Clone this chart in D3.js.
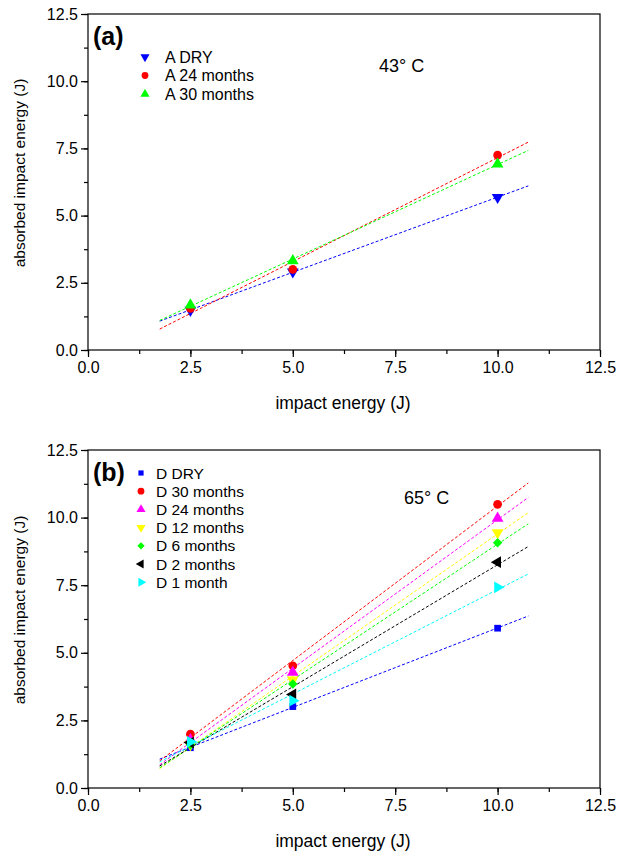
<!doctype html>
<html>
  <head>
    <meta charset="utf-8">
    <title>Absorbed impact energy</title>
    <script src="https://cdn.jsdelivr.net/npm/d3@7/dist/d3.min.js"></script>
    <style>
      body { margin: 0; background: #fff; }
      text { font-family: "Liberation Sans", Arial, sans-serif; }
    </style>
  </head>
  <body>
    <script>
      // impact energies (J)
      const energies = [2.5, 5, 10];
      const ticks = [0, 2.5, 5, 7.5, 10, 12.5];

      // panel (a), 43° C
      const seriesA = ['A DRY', 'A 24 months', 'A 30 months'];
      const aDry = [1.48, 2.91, 5.68];
      const a24 = [1.55, 3.0, 7.25];
      const a30 = [1.67, 3.32, 6.92];

      // panel (b), 65° C
      const seriesD = ['D DRY', 'D 30 months', 'D 24 months', 'D 12 months', 'D 6 months', 'D 2 months', 'D 1 month'];
      const dDry = [1.49, 3.01, 5.91];
      const d30 = [1.99, 4.52, 10.49];
      const d24 = [1.78, 4.28, 9.97];
      const d12 = [1.6, 4.0, 9.44];
      const d6 = [1.6, 3.85, 9.07];
      const d2 = [1.68, 3.46, 8.35];
      const d1 = [1.71, 3.23, 7.42];

      const W = 617, H = 853;
      const svg = d3.select('body').append('svg')
          .attr('width', W)
          .attr('height', H);

      // marker shapes: symbol type + rotation
      const shapes = {
        down: [d3.symbolTriangle, 180],
        up: [d3.symbolTriangle, 0],
        left: [d3.symbolTriangle, -90],
        right: [d3.symbolTriangle, 90],
        circle: [d3.symbolCircle, 0],
        square: [d3.symbolSquare, 0],
        diamond: [d3.symbolSquare, 45]
      };

      function fit(xs, ys) {
        const mx = d3.mean(xs), my = d3.mean(ys);
        const sxy = d3.sum(xs, (x, i) => (x - mx) * (ys[i] - my));
        const sxx = d3.sum(xs, x => (x - mx) * (x - mx));
        const b = sxy / sxx;
        return [b, my - b * mx];
      }

      function panel(cfg) {
        const x = d3.scaleLinear().domain([0, 12.5]).range([88, 600]);
        const y = d3.scaleLinear().domain([0, 12.5]).range([cfg.bottom, cfg.top]);
        const g = svg.append('g');

        // frame
        g.append('rect')
            .attr('x', 88).attr('y', cfg.top)
            .attr('width', 512).attr('height', cfg.bottom - cfg.top)
            .attr('fill', 'none').attr('stroke', '#000').attr('stroke-width', 1.2);

        // axes, major + minor ticks
        const minor = d3.range(0, 12.51, 1.25);
        g.append('g').attr('transform', `translate(0,${cfg.bottom})`)
            .call(d3.axisBottom(x).tickValues(minor).tickSize(4).tickFormat(''))
            .call(a => a.select('.domain').remove());
        g.append('g').attr('transform', `translate(0,${cfg.bottom})`)
            .call(d3.axisBottom(x).tickValues(ticks).tickSize(7).tickPadding(5).tickFormat(d3.format('.1f')))
            .call(a => a.select('.domain').remove())
            .call(a => a.selectAll('text').attr('font-size', 16).attr('fill', '#000'));
        g.append('g').attr('transform', 'translate(88,0)')
            .call(d3.axisLeft(y).tickValues(minor).tickSize(4).tickFormat(''))
            .call(a => a.select('.domain').remove());
        g.append('g').attr('transform', 'translate(88,0)')
            .call(d3.axisLeft(y).tickValues(ticks).tickSize(7).tickPadding(3).tickFormat(d3.format('.1f')))
            .call(a => a.select('.domain').remove())
            .call(a => a.selectAll('text').attr('font-size', 16).attr('fill', '#000'));
        g.selectAll('.tick line').attr('stroke-width', 1.2);

        // axis titles
        g.append('text')
            .attr('x', 343).attr('y', cfg.bottom + 59)
            .attr('text-anchor', 'middle').attr('font-size', 17.5)
            .text('impact energy (J)');
        g.append('text')
            .attr('transform', `translate(25,${(cfg.top + cfg.bottom) / 2 - 9}) rotate(-90)`)
            .attr('text-anchor', 'middle').attr('font-size', 15.5)
            .text('absorbed impact energy (J)');

        // fitted dashed lines
        cfg.series.forEach(s => {
          const [b, a] = fit(energies, s.values);
          g.append('line')
              .attr('x1', x(1.75)).attr('y1', y(a + b * 1.75))
              .attr('x2', x(10.75)).attr('y2', y(a + b * 10.75))
              .attr('stroke', s.color).attr('stroke-width', 1)
              .attr('stroke-dasharray', '3,2');
        });

        // data markers
        cfg.series.forEach(s => {
          const [type, rot] = shapes[s.shape];
          g.selectAll(null)
            .data(s.values)
            .join('path')
              .attr('transform', (d, i) => `translate(${x(energies[i])},${y(d)}) rotate(${rot})`)
              .attr('d', d3.symbol().type(type).size(s.size || 60))
              .attr('fill', s.color);
        });

        // panel letter + temperature
        g.append('text')
            .attr('x', 93).attr('y', cfg.top + 31)
            .attr('font-size', 25).attr('font-weight', 'bold')
            .text(cfg.letter);
        g.append('text')
            .attr('x', cfg.tempX).attr('y', cfg.tempY)
            .attr('font-size', 18)
            .text(cfg.temp);

        // legend
        cfg.series.forEach((s, i) => {
          const ly = cfg.legY + i * cfg.legStep;
          const [type, rot] = shapes[s.shape];
          g.append('path')
              .attr('transform', `translate(${cfg.legX},${ly}) rotate(${rot})`)
              .attr('d', d3.symbol().type(type).size((s.size || 60) * 0.6))
              .attr('fill', s.color);
          g.append('text')
              .attr('x', cfg.legX + cfg.legGap).attr('y', ly + 5.5)
              .attr('font-size', cfg.legFont)
              .text(s.name);
        });
      }

      panel({
        top: 14, bottom: 350, letter: '(a)', temp: '43° C', tempX: 379, tempY: 72,
        legX: 145, legGap: 20, legY: 57, legStep: 18.5, legFont: 16,
        series: [
          { name: seriesA[0], values: aDry, color: '#0000ff', shape: 'down' },
          { name: seriesA[1], values: a24, color: '#ff0000', shape: 'circle' },
          { name: seriesA[2], values: a30, color: '#00ff00', shape: 'up' }
        ]
      });

      panel({
        top: 450, bottom: 788, letter: '(b)', temp: '65° C', tempX: 404, tempY: 504,
        legX: 141, legGap: 15, legY: 473, legStep: 18.2, legFont: 15.5,
        series: [
          { name: seriesD[0], values: dDry, color: '#0000ff', shape: 'square', size: 45 },
          { name: seriesD[1], values: d30, color: '#ff0000', shape: 'circle' },
          { name: seriesD[2], values: d24, color: '#ff00ff', shape: 'up' },
          { name: seriesD[3], values: d12, color: '#ffff00', shape: 'down' },
          { name: seriesD[4], values: d6, color: '#00ff00', shape: 'diamond', size: 45 },
          { name: seriesD[5], values: d2, color: '#000000', shape: 'left' },
          { name: seriesD[6], values: d1, color: '#00ffff', shape: 'right' }
        ]
      });
    </script>
  </body>
</html>
